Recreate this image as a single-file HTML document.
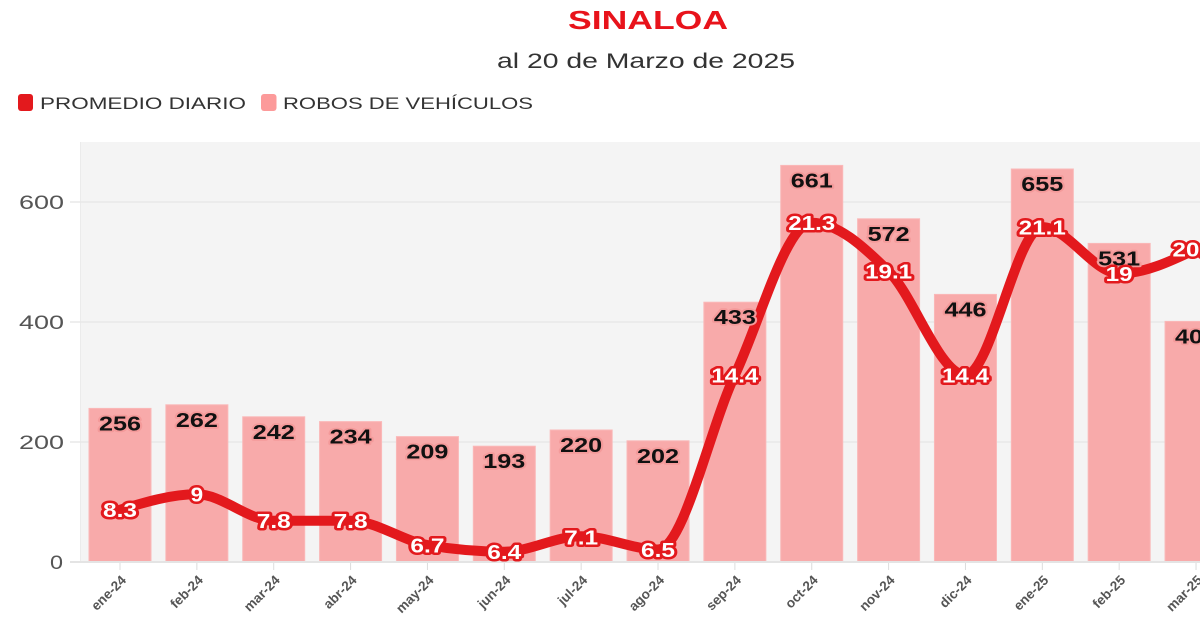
<!DOCTYPE html>
<html>
<head>
<meta charset="utf-8">
<style>
  html, body { margin: 0; padding: 0; background: #ffffff; }
  body { width: 1200px; height: 630px; overflow: hidden; }
  svg { display: block; font-family: "Liberation Sans", Arial, sans-serif; }
  .yl { font-size: 19px; fill: #555; }
  .bl { font-size: 20px; font-weight: bold; fill: #111; stroke: #f49a9a; stroke-width: 3.5px; paint-order: stroke; stroke-linejoin: round; }
  .ll { font-size: 20px; font-weight: bold; fill: #fff; stroke: #e3191d; stroke-width: 5px; paint-order: stroke; stroke-linejoin: round; }
  .xl { font-size: 13.5px; font-weight: bold; fill: #555; }
</style>
</head>
<body>
<svg width="1200" height="630" viewBox="0 0 1200 630" xmlns="http://www.w3.org/2000/svg">
  <rect x="0" y="0" width="1200" height="630" fill="#ffffff"/>

  <!-- Title -->
  <text x="568" y="29" font-size="26" font-weight="bold" fill="#e8131b" textLength="160" lengthAdjust="spacingAndGlyphs">SINALOA</text>
  <text x="497" y="68" font-size="21" fill="#333" textLength="298" lengthAdjust="spacingAndGlyphs">al 20 de Marzo de 2025</text>

  <!-- Legend -->
  <rect x="18" y="94" width="15" height="17" rx="3" fill="#e3191d"/>
  <text x="40" y="109" font-size="17" fill="#333" textLength="206" lengthAdjust="spacingAndGlyphs">PROMEDIO DIARIO</text>
  <rect x="261" y="94" width="15.5" height="17" rx="3" fill="#fc9a9a"/>
  <text x="283" y="109" font-size="17" fill="#333" textLength="250" lengthAdjust="spacingAndGlyphs">ROBOS DE VEHÍCULOS</text>

  <!-- Plot background -->
  <rect x="80" y="142" width="1120" height="420" fill="#f4f4f4"/>
  <line x1="80.5" y1="142" x2="80.5" y2="562" stroke="#ebebeb" stroke-width="1"/>

  <!-- Gridlines -->
  <g stroke="#e8e8e8" stroke-width="1.5">
    <line x1="70" y1="202" x2="1200" y2="202"/>
    <line x1="70" y1="322" x2="1200" y2="322"/>
    <line x1="70" y1="442" x2="1200" y2="442"/>
  </g>

  <!-- Y labels -->
  <text class="yl" x="64" y="209" text-anchor="end" textLength="45" lengthAdjust="spacingAndGlyphs">600</text>
  <text class="yl" x="64" y="329" text-anchor="end" textLength="45" lengthAdjust="spacingAndGlyphs">400</text>
  <text class="yl" x="64" y="449" text-anchor="end" textLength="45" lengthAdjust="spacingAndGlyphs">200</text>
  <text class="yl" x="63" y="569" text-anchor="end" textLength="13" lengthAdjust="spacingAndGlyphs">0</text>

  <!-- Bars -->
  <g fill="#f8aaaa" stroke="#fab8b8" stroke-width="1">
    <rect x="89" y="408.4" width="62" height="153.6"/>
    <rect x="165.86" y="404.8" width="62" height="157.2"/>
    <rect x="242.72" y="416.8" width="62" height="145.2"/>
    <rect x="319.58" y="421.6" width="62" height="140.4"/>
    <rect x="396.44" y="436.6" width="62" height="125.4"/>
    <rect x="473.3" y="446.2" width="62" height="115.8"/>
    <rect x="550.16" y="430" width="62" height="132"/>
    <rect x="627.02" y="440.8" width="62" height="121.2"/>
    <rect x="703.88" y="302.2" width="62" height="259.8"/>
    <rect x="780.74" y="165.4" width="62" height="396.6"/>
    <rect x="857.6" y="218.8" width="62" height="343.2"/>
    <rect x="934.46" y="294.4" width="62" height="267.6"/>
    <rect x="1011.32" y="169" width="62" height="393"/>
    <rect x="1088.18" y="243.4" width="62" height="318.6"/>
    <rect x="1165.04" y="321.4" width="62" height="240.6"/>
  </g>

  <!-- Zero axis line -->
  <line x1="70" y1="562" x2="1200" y2="562" stroke="#e4e4e4" stroke-width="2"/>

  <!-- Ticks -->
  <g stroke="#dcdcdc" stroke-width="1">
    <line x1="120" y1="563" x2="120" y2="570"/>
    <line x1="196.86" y1="563" x2="196.86" y2="570"/>
    <line x1="273.72" y1="563" x2="273.72" y2="570"/>
    <line x1="350.58" y1="563" x2="350.58" y2="570"/>
    <line x1="427.44" y1="563" x2="427.44" y2="570"/>
    <line x1="504.3" y1="563" x2="504.3" y2="570"/>
    <line x1="581.16" y1="563" x2="581.16" y2="570"/>
    <line x1="658.02" y1="563" x2="658.02" y2="570"/>
    <line x1="734.88" y1="563" x2="734.88" y2="570"/>
    <line x1="811.74" y1="563" x2="811.74" y2="570"/>
    <line x1="888.6" y1="563" x2="888.6" y2="570"/>
    <line x1="965.46" y1="563" x2="965.46" y2="570"/>
    <line x1="1042.32" y1="563" x2="1042.32" y2="570"/>
    <line x1="1119.18" y1="563" x2="1119.18" y2="570"/>
    <line x1="1196.04" y1="563" x2="1196.04" y2="570"/>
  </g>

  <!-- X labels -->
  <text class="xl" text-anchor="end" transform="translate(127,581) rotate(-45)">ene-24</text>
  <text class="xl" text-anchor="end" transform="translate(203.86,581) rotate(-45)">feb-24</text>
  <text class="xl" text-anchor="end" transform="translate(280.72,581) rotate(-45)">mar-24</text>
  <text class="xl" text-anchor="end" transform="translate(357.58,581) rotate(-45)">abr-24</text>
  <text class="xl" text-anchor="end" transform="translate(434.44,581) rotate(-45)">may-24</text>
  <text class="xl" text-anchor="end" transform="translate(511.3,581) rotate(-45)">jun-24</text>
  <text class="xl" text-anchor="end" transform="translate(588.16,581) rotate(-45)">jul-24</text>
  <text class="xl" text-anchor="end" transform="translate(665.02,581) rotate(-45)">ago-24</text>
  <text class="xl" text-anchor="end" transform="translate(741.88,581) rotate(-45)">sep-24</text>
  <text class="xl" text-anchor="end" transform="translate(818.74,581) rotate(-45)">oct-24</text>
  <text class="xl" text-anchor="end" transform="translate(895.6,581) rotate(-45)">nov-24</text>
  <text class="xl" text-anchor="end" transform="translate(972.46,581) rotate(-45)">dic-24</text>
  <text class="xl" text-anchor="end" transform="translate(1049.32,581) rotate(-45)">ene-25</text>
  <text class="xl" text-anchor="end" transform="translate(1126.18,581) rotate(-45)">feb-25</text>
  <text class="xl" text-anchor="end" transform="translate(1203.04,581) rotate(-45)">mar-25</text>

  <!-- Line -->
  <path fill="none" stroke="#e3191d" stroke-width="10" stroke-linecap="round" stroke-linejoin="round"
    d="M120,509.74 C145.62,502.01 171.24,494.28 196.86,494.28
       C222.48,494.28 248.10,520.78 273.72,520.78
       C299.34,520.78 324.96,520.78 350.58,520.78
       C376.20,520.78 401.82,540.64 427.44,545.06
       C453.06,549.48 478.68,551.69 504.30,551.69
       C529.92,551.69 555.54,536.23 581.16,536.23
       C606.78,536.23 632.40,549.48 658.02,549.48
       C683.64,549.48 709.26,429.51 734.88,375.05
       C760.50,320.59 786.12,222.70 811.74,222.70
       C837.36,222.70 862.98,245.88 888.60,271.27
       C914.22,296.66 939.84,375.05 965.46,375.05
       C991.08,375.05 1016.70,227.11 1042.32,227.11
       C1067.94,227.11 1093.56,273.48 1119.18,273.48
       C1144.80,273.48 1170.42,261.34 1196.04,249.19"/>

  <!-- Bar labels -->
  <g text-anchor="middle">
    <text class="bl" x="120" y="430.4" textLength="42" lengthAdjust="spacingAndGlyphs">256</text>
    <text class="bl" x="196.86" y="426.8" textLength="42" lengthAdjust="spacingAndGlyphs">262</text>
    <text class="bl" x="273.72" y="438.8" textLength="42" lengthAdjust="spacingAndGlyphs">242</text>
    <text class="bl" x="350.58" y="443.6" textLength="42" lengthAdjust="spacingAndGlyphs">234</text>
    <text class="bl" x="427.44" y="458.6" textLength="42" lengthAdjust="spacingAndGlyphs">209</text>
    <text class="bl" x="504.3" y="468.2" textLength="42" lengthAdjust="spacingAndGlyphs">193</text>
    <text class="bl" x="581.16" y="452" textLength="42" lengthAdjust="spacingAndGlyphs">220</text>
    <text class="bl" x="658.02" y="462.8" textLength="42" lengthAdjust="spacingAndGlyphs">202</text>
    <text class="bl" x="734.88" y="324.2" textLength="42" lengthAdjust="spacingAndGlyphs">433</text>
    <text class="bl" x="811.74" y="187.4" textLength="42" lengthAdjust="spacingAndGlyphs">661</text>
    <text class="bl" x="888.6" y="240.8" textLength="42" lengthAdjust="spacingAndGlyphs">572</text>
    <text class="bl" x="965.46" y="316.4" textLength="42" lengthAdjust="spacingAndGlyphs">446</text>
    <text class="bl" x="1042.32" y="191" textLength="42" lengthAdjust="spacingAndGlyphs">655</text>
    <text class="bl" x="1119.18" y="265.4" textLength="42" lengthAdjust="spacingAndGlyphs">531</text>
    <text class="bl" x="1196.04" y="343.4" textLength="42" lengthAdjust="spacingAndGlyphs">401</text>
  </g>

  <!-- Line labels -->
  <g text-anchor="middle">
    <text class="ll" x="120" y="517" textLength="34" lengthAdjust="spacingAndGlyphs">8.3</text>
    <text class="ll" x="196.86" y="501.6" textLength="12.5" lengthAdjust="spacingAndGlyphs">9</text>
    <text class="ll" x="273.72" y="528.1" textLength="34" lengthAdjust="spacingAndGlyphs">7.8</text>
    <text class="ll" x="350.58" y="528.1" textLength="34" lengthAdjust="spacingAndGlyphs">7.8</text>
    <text class="ll" x="427.44" y="552.4" textLength="34" lengthAdjust="spacingAndGlyphs">6.7</text>
    <text class="ll" x="504.3" y="559" textLength="34" lengthAdjust="spacingAndGlyphs">6.4</text>
    <text class="ll" x="581.16" y="544.3" textLength="34" lengthAdjust="spacingAndGlyphs">7.1</text>
    <text class="ll" x="658.02" y="556.8" textLength="34" lengthAdjust="spacingAndGlyphs">6.5</text>
    <text class="ll" x="734.88" y="382.4" textLength="47" lengthAdjust="spacingAndGlyphs">14.4</text>
    <text class="ll" x="811.74" y="230" textLength="47" lengthAdjust="spacingAndGlyphs">21.3</text>
    <text class="ll" x="888.6" y="278.6" textLength="47" lengthAdjust="spacingAndGlyphs">19.1</text>
    <text class="ll" x="965.46" y="382.4" textLength="47" lengthAdjust="spacingAndGlyphs">14.4</text>
    <text class="ll" x="1042.32" y="234.4" textLength="47" lengthAdjust="spacingAndGlyphs">21.1</text>
    <text class="ll" x="1119.18" y="281.2" textLength="27" lengthAdjust="spacingAndGlyphs">19</text>
    <text class="ll" x="1196.04" y="256.5" textLength="47" lengthAdjust="spacingAndGlyphs">20.1</text>
  </g>
</svg>
</body>
</html>
